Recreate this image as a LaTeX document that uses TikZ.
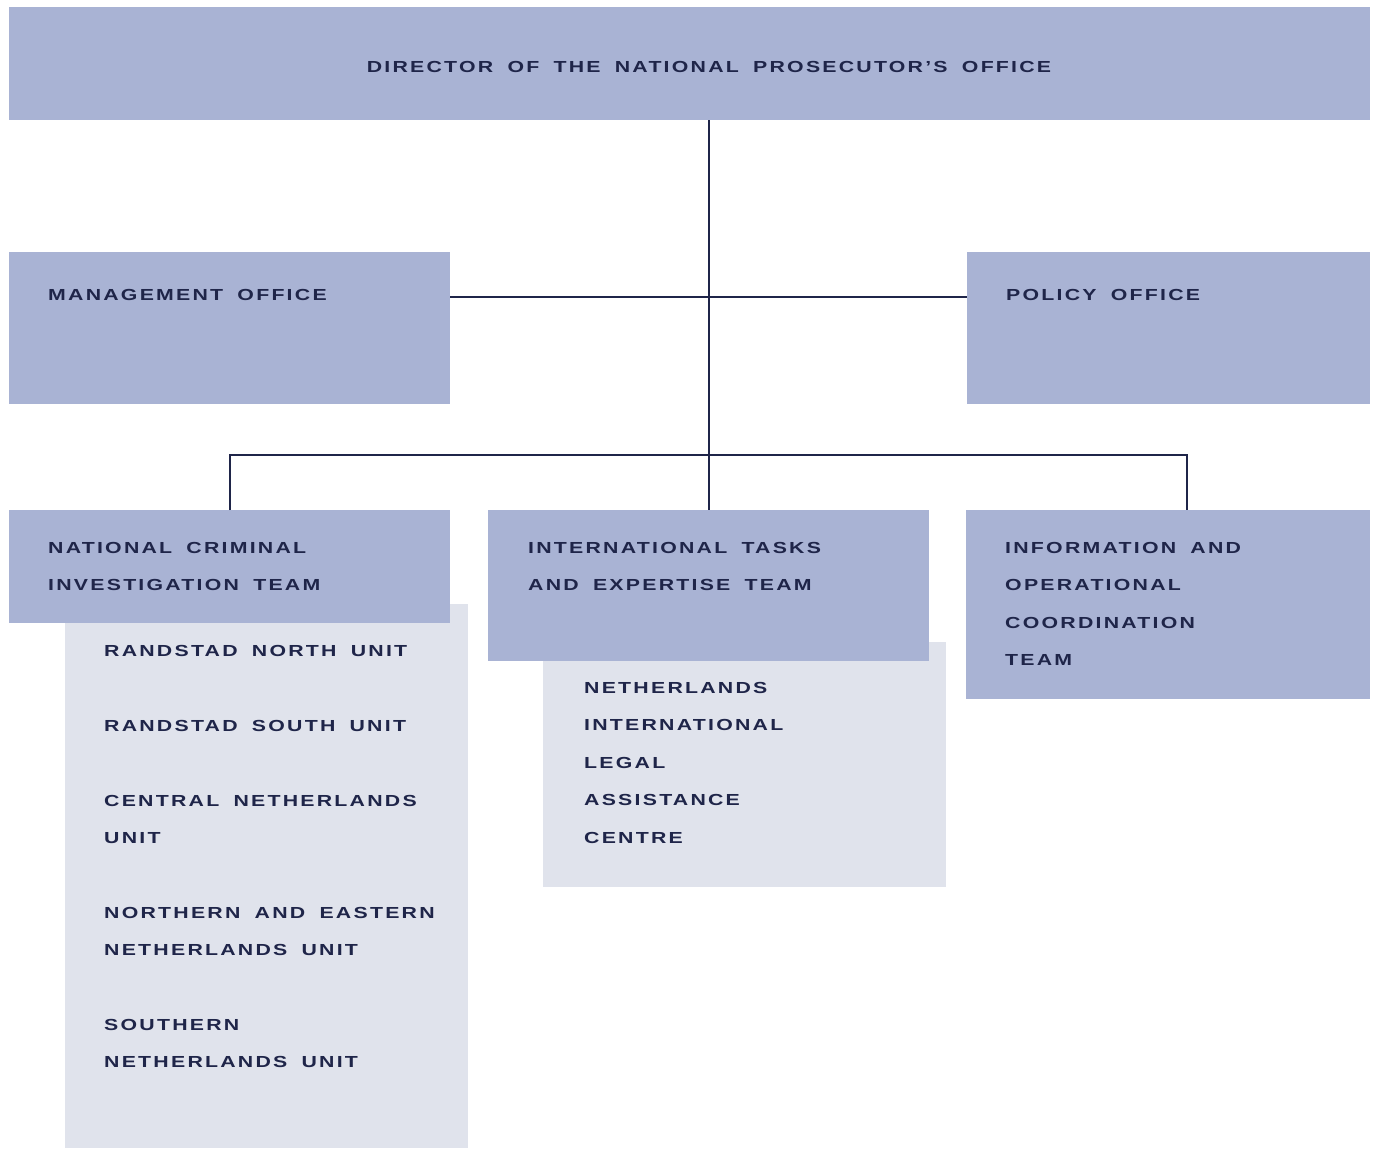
\documentclass[tikz,border=0pt]{standalone}
\usepackage{fontspec}
\newfontfamily\orgfont[FakeStretch=1.33,LetterSpace=14,WordSpace={1.75}]{Liberation Sans Bold}
\definecolor{boxblue}{HTML}{A9B3D4}
\definecolor{boxlight}{HTML}{E0E3EC}
\definecolor{navy}{HTML}{1F2549}
\begin{document}
\begin{tikzpicture}[x=1pt,y=-1pt,
  mainbox/.style={fill=boxblue,draw=none,anchor=north west,inner sep=0pt},
  subbox/.style={fill=boxlight,draw=none,anchor=north west,inner sep=0pt},
  lbl/.style={text=navy,anchor=base west,inner sep=0pt,align=left,
    font=\orgfont\fontsize{16}{37.5}\selectfont},
  conn/.style={draw=navy,line width=2pt}]
\useasboundingbox (0,0) rectangle (1373,1149);
% boxes
\node[mainbox,minimum width=1361pt,minimum height=113pt] (dir) at (9,7) {};
\node[mainbox,minimum width=441pt,minimum height=152pt] (mgmt) at (9,252) {};
\node[mainbox,minimum width=403pt,minimum height=152pt] (pol) at (967,252) {};
\node[subbox,minimum width=403pt,minimum height=544pt] (ncisub) at (65,604) {};
\node[mainbox,minimum width=441pt,minimum height=113pt] (nci) at (9,510) {};
\node[subbox,minimum width=403pt,minimum height=245pt] (itesub) at (543,642) {};
\node[mainbox,minimum width=441pt,minimum height=151pt] (ite) at (488,510) {};
\node[mainbox,minimum width=404pt,minimum height=189pt] (info) at (966,510) {};
% junctions
\coordinate (j1) at (708,297);
\coordinate (j2) at (708,455);
\coordinate (j3) at (1187,455);
% connectors
\draw[conn] (ite.north |- dir.south) -- (ite.north);
\draw[conn] (mgmt.east |- j1) -- (pol.west |- j1);
\draw[conn] (nci.north) -- (nci.north |- j2) -- (j3) -- (j3 |- info.north);
% texts (anchor = baseline of the last line)
\node[lbl,anchor=base] (tdir) at (709,72) {DIRECTOR OF THE NATIONAL PROSECUTOR’S OFFICE};
\node[lbl] (tmgmt) at (48,300) {MANAGEMENT OFFICE};
\node[lbl] (tpol) at (1006,300) {POLICY OFFICE};
\node[lbl] (tnci) at (48,590.5) {NATIONAL CRIMINAL\\INVESTIGATION TEAM};
\node[lbl] (tite) at (528,590.5) {INTERNATIONAL TASKS\\AND EXPERTISE TEAM};
\node[lbl] (tinfo) at (1005,665.5) {INFORMATION AND\\OPERATIONAL\\COORDINATION\\TEAM};
\node[lbl] (tu1) at (104,656) {RANDSTAD NORTH UNIT};
\node[lbl] (tu2) at (104,731) {RANDSTAD SOUTH UNIT};
\node[lbl] (tu3) at (104,843.5) {CENTRAL NETHERLANDS\\UNIT};
\node[lbl] (tu4) at (104,955.5) {NORTHERN AND EASTERN\\NETHERLANDS UNIT};
\node[lbl] (tu5) at (104,1067.5) {SOUTHERN\\NETHERLANDS UNIT};
\node[lbl] (tnil) at (584,843) {NETHERLANDS\\INTERNATIONAL\\LEGAL\\ASSISTANCE\\CENTRE};
\end{tikzpicture}
\end{document}
